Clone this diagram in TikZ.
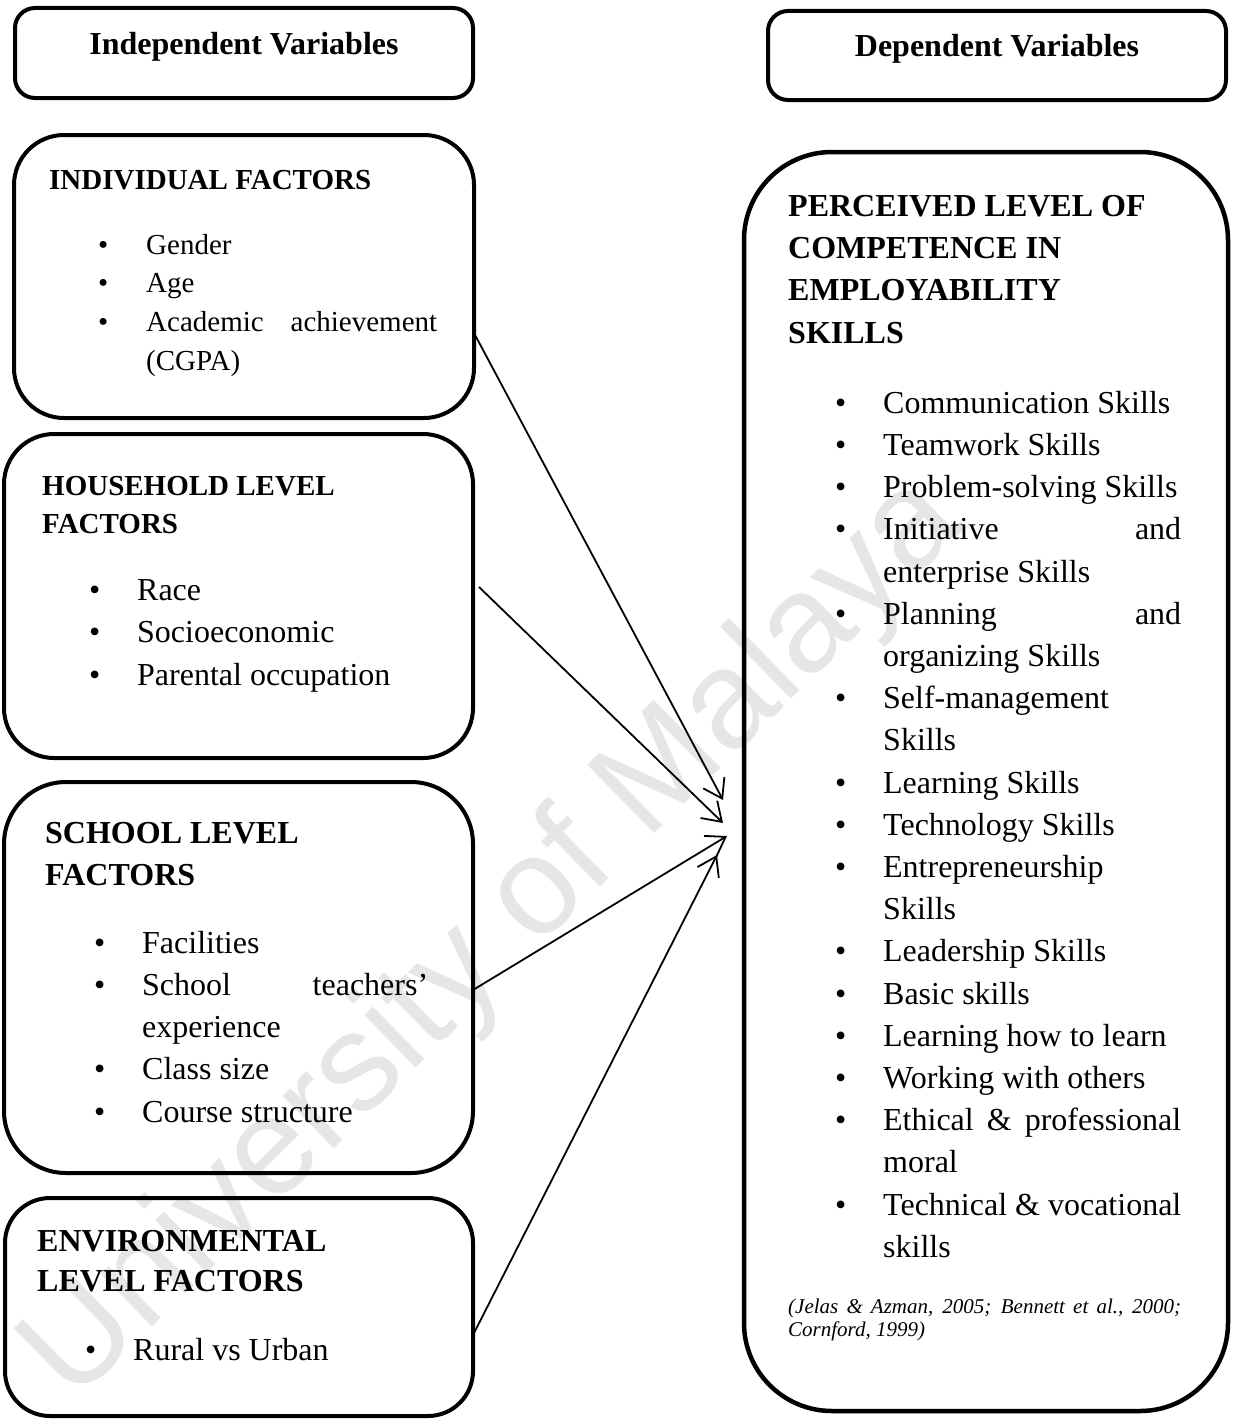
\documentclass[tikz,border=0pt]{standalone}
\usepackage{fontspec}
\setmainfont{Liberation Serif}
\newfontfamily\wmfont{Liberation Sans}
\usetikzlibrary{arrows.meta,positioning}
\definecolor{WaterGray}{HTML}{E6E6E6}

\newcommand{\bul}{\makebox[48pt][l]{\textbullet}}
\newcommand{\ind}{\hspace*{48pt}}
\newcommand{\jline}[2]{\makebox[#1][s]{#2}}

\begin{document}
\begin{tikzpicture}[
    x=1pt, y=-1pt,
    panel/.style={draw, line width=4pt, rounded corners=#1, inner sep=0pt, outer sep=0pt},
    panel/.default=50pt,
    hdrtext/.style={anchor=base, inner sep=0pt, font=\bfseries\fontsize{32}{40}\selectfont},
    title/.style={anchor=north west, inner sep=0pt, align=left, font=\bfseries\fontsize{32}{#1}\selectfont},
    title/.default=42.2,
    items/.style={anchor=north west, inner sep=0pt, align=left, font=\fontsize{32}{#1}\selectfont},
    items/.default=42.2,
    flow/.style={-{Straight Barb[length=18pt, width=24pt]}, line width=1.8pt}
  ]
    \useasboundingbox (0,0) rectangle (1235,1421);

    % watermark
    \node[text=WaterGray, font=\wmfont\fontsize{139}{142}\selectfont, rotate=44.5] (wmark) at (495,940) {University of Malaya};

    % header boxes
    \node[panel=20pt, minimum width=458pt, minimum height=90pt] (hdrL) at (244,53) {};
    \node[panel=20pt, minimum width=458pt, minimum height=89pt] (hdrR) at (997,55.5) {};
    \node[hdrtext] (indeplbl) at (244,55) {Independent Variables};
    \node[hdrtext] (deplbl) at (997,57) {Dependent Variables};

    % independent variable boxes
    \node[panel=50pt, minimum width=460pt, minimum height=283pt] (indiv) at (244,276.5) {};
    \node[panel=50pt, minimum width=469pt, minimum height=324pt] (house) at (238.5,596) {};
    \node[panel=62pt, minimum width=469pt, minimum height=391pt] (school) at (238.5,977.5) {};
    \node[panel=45pt, minimum width=468pt, minimum height=218pt] (env) at (239,1307) {};

    % dependent variable box
    \node[panel=88pt, line width=4.5pt, minimum width=484pt, minimum height=1259pt] (dep) at (986,781.5) {};

    % box texts
    \node[anchor=north west, inner sep=0pt, font=\bfseries\fontsize{29}{38.7}\selectfont] (indivtitle) at (49,161.9) {\strut INDIVIDUAL FACTORS};
    \node[anchor=north west, inner sep=0pt, align=left, font=\fontsize{29}{38.7}\selectfont] (indivlist) at (98,226.9) {\strut\bul Gender\\
      \bul Age\\
      \bul\jline{291pt}{Academic achievement}\\
      \ind (CGPA)};

    \node[anchor=north west, inner sep=0pt, align=left, font=\bfseries\fontsize{29}{38}\selectfont] (housetitle) at (42,468.4) {\strut HOUSEHOLD LEVEL\\
      FACTORS};
    \node[items=42.5] (houselist) at (89,570.25) {\strut\bul Race\\
      \bul Socioeconomic\\
      \bul Parental occupation};

    \node[title=42] (schooltitle) at (45,813.6) {\strut SCHOOL LEVEL\\
      FACTORS};
    \node[items] (schoollist) at (94,923.5) {\strut\bul Facilities\\
      \bul\jline{286pt}{School teachers’}\\
      \ind experience\\
      \bul Class size\\
      \bul Course structure};

    \node[title=40] (envtitle) at (37,1223) {\strut ENVIRONMENTAL\\
      LEVEL FACTORS};
    \node[items] (envlist) at (85,1330.5) {\strut\bul Rural vs Urban};

    \node[title=42.4] (deptitle) at (788,186.3) {\strut PERCEIVED LEVEL OF\\
      COMPETENCE IN\\
      EMPLOYABILITY\\
      SKILLS};
    \node[items] (deplist) at (835,383.5) {\strut\bul Communication Skills\\
      \bul Teamwork Skills\\
      \bul Problem-solving Skills\\
      \bul\jline{298pt}{Initiative and}\\
      \ind enterprise Skills\\
      \bul\jline{298pt}{Planning and}\\
      \ind organizing Skills\\
      \bul Self-management\\
      \ind Skills\\
      \bul Learning Skills\\
      \bul Technology Skills\\
      \bul Entrepreneurship\\
      \ind Skills\\
      \bul Leadership Skills\\
      \bul Basic skills\\
      \bul Learning how to learn\\
      \bul Working with others\\
      \bul\jline{298pt}{Ethical \& professional}\\
      \ind moral\\
      \bul Technical \& vocational\\
      \ind skills};
    \node[anchor=north west, inner sep=0pt, align=left, font=\itshape\fontsize{21}{23}\selectfont] (cite) at (788,1296.9) {\strut\jline{393pt}{(Jelas \& Azman, 2005; Bennett et al., 2000;}\\
      Cornford, 1999)};

    % arrows
    \coordinate (tip1) at ([xshift=-21pt, yshift=-18.5pt]dep.west);
    \coordinate (tip2) at ([xshift=-21pt, yshift=-41.5pt]dep.west);
    \coordinate (tip3) at ([xshift=-17pt, yshift=-54.5pt]dep.west);
    \coordinate (tip4) at ([xshift=-27pt, yshift=-73.5pt]dep.west);

    \draw[flow] ([yshift=-56.5pt]indiv.east) -- (tip1);
    \draw[flow] ([xshift=6pt, yshift=9pt]house.east) -- (tip2);
    \draw[flow] ([yshift=-12.5pt]school.east) -- (tip3);
    \draw[flow] ([yshift=-28pt]env.east) -- (tip4);
  \end{tikzpicture}
\end{document}
